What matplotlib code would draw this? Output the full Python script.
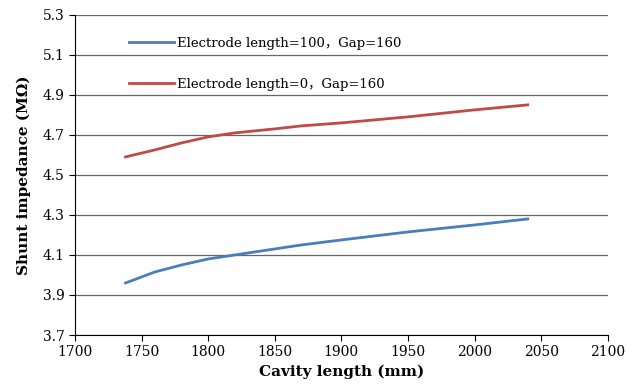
import matplotlib.pyplot as plt

# valores
cavity_len = [1738, 1760, 1780, 1800, 1820, 1850, 1870, 1900, 1950, 2000, 2040]
z_elec100 = [3.96, 4.015, 4.05, 4.08, 4.10, 4.13, 4.15, 4.175, 4.215, 4.25, 4.28]
z_elec0 = [4.59, 4.625, 4.66, 4.69, 4.71, 4.73, 4.745, 4.76, 4.79, 4.825, 4.85]

rotulos = ['Electrode length=100\uff0cGap=160', 'Electrode length=0\uff0cGap=160']

plt.rcParams['font.family'] = ['DejaVu Serif', 'Noto Sans CJK SC']

fig = plt.figure(figsize=(6.35, 3.9), dpi=100)
ax = fig.add_axes([0.118, 0.141, 0.839, 0.821])

ax.plot(cavity_len, z_elec100, color='#4a7ebb', lw=2.0, label=rotulos[0])
ax.plot(cavity_len, z_elec0, color='#be4b48', lw=2.0, label=rotulos[1])

ax.set_xlim(1700, 2100)
ax.set_ylim(3.7, 5.3)
ax.set_xticks(range(1700, 2101, 50))
ax.set_yticks([3.7, 3.9, 4.1, 4.3, 4.5, 4.7, 4.9, 5.1, 5.3])
ax.set_yticklabels(['3.7', '3.9', '4.1', '4.3', '4.5', '4.7', '4.9', '5.1', '5.3'])
ax.tick_params(labelsize=10, direction='out', length=4, color='black')
ax.grid(axis='y', color='#666666', lw=0.9)
ax.set_axisbelow(True)
for s in ['top', 'right']:
    ax.spines[s].set_visible(False)
ax.spines['left'].set_color('black')
ax.spines['bottom'].set_color('black')

ax.set_xlabel('Cavity length (mm)', fontsize=11, fontweight='bold')
ax.set_ylabel('Shunt impedance (M\u03a9)', fontsize=11, fontweight='bold', labelpad=8)

ax.legend(loc='upper left', bbox_to_anchor=(0.08, 0.968), frameon=False,
          fontsize=9.5, labelspacing=2.1, handlelength=3.4, handletextpad=0.2)

plt.savefig('out.png', dpi=100)
